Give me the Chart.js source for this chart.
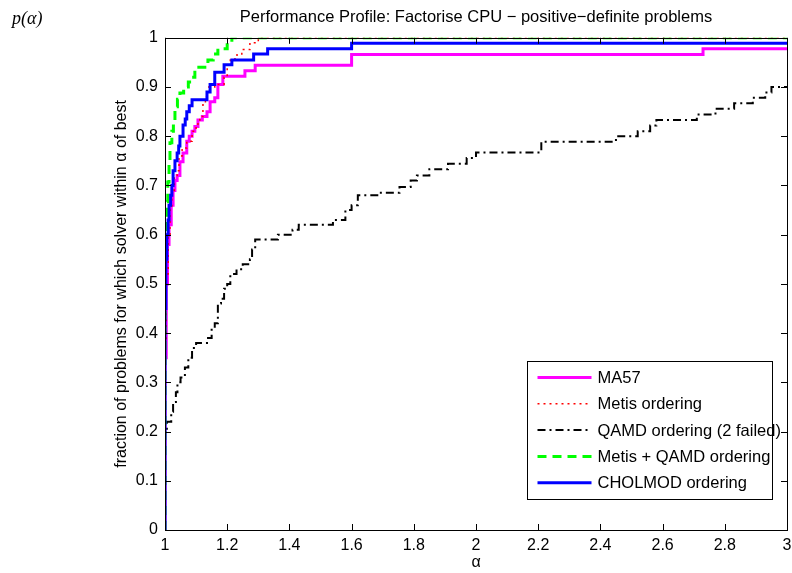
<!DOCTYPE html>
<html>
<head>
<meta charset="utf-8">
<script src="https://cdn.jsdelivr.net/npm/chart.js@4/dist/chart.umd.min.js"></script>
<style>
  html, body { margin: 0; padding: 0; background: #fff; }
  #wrap { width: 792px; height: 573px; }
</style>
</head>
<body>
<div id="wrap"><canvas id="profile"></canvas></div>
<script>
// alpha = ratio to best solver, frac = fraction of problems solved within alpha
const ma57Alpha = [1, 1, 1.004, 1.008, 1.013, 1.02, 1.026, 1.032, 1.039, 1.048, 1.058, 1.07, 1.078, 1.087, 1.096, 1.106, 1.12, 1.135, 1.145, 1.16, 1.17, 1.186, 1.257, 1.29, 1.6, 2.73, 3];
const ma57Frac = [0, 0.35, 0.5, 0.58, 0.62, 0.66, 0.69, 0.71, 0.72, 0.748, 0.766, 0.79, 0.8, 0.81, 0.82, 0.833, 0.84, 0.85, 0.87, 0.878, 0.905, 0.922, 0.933, 0.944, 0.966, 0.978, 0.978];

const metisAlpha = [1, 1, 1.004, 1.01, 1.016, 1.022, 1.03, 1.039, 1.045, 1.055, 1.07, 1.087, 1.1, 1.112, 1.122, 1.13, 1.138, 1.16, 1.19, 1.2, 1.21, 1.225, 1.247, 1.273, 1.3, 3];
const metisFrac = [0, 0.38, 0.52, 0.6, 0.65, 0.69, 0.72, 0.73, 0.76, 0.776, 0.79, 0.81, 0.825, 0.84, 0.864, 0.88, 0.9, 0.905, 0.92, 0.945, 0.955, 0.965, 0.976, 0.99, 1.0, 1.0];

const qamdAlpha = [1, 1, 1.006, 1.02, 1.026, 1.035, 1.04, 1.05, 1.064, 1.075, 1.087, 1.1, 1.135, 1.15, 1.16, 1.17, 1.18, 1.19, 1.2, 1.21, 1.23, 1.25, 1.273, 1.28, 1.29, 1.363, 1.41, 1.43, 1.54, 1.58, 1.6, 1.62, 1.69, 1.754, 1.79, 1.81, 1.85, 1.91, 1.97, 2.0, 2.21, 2.45, 2.52, 2.56, 2.58, 2.71, 2.77, 2.83, 2.89, 2.93, 2.95, 3];
const qamdFrac = [0, 0.2, 0.22, 0.24, 0.26, 0.28, 0.3, 0.31, 0.33, 0.35, 0.37, 0.38, 0.39, 0.41, 0.42, 0.46, 0.47, 0.49, 0.5, 0.52, 0.53, 0.54, 0.55, 0.57, 0.59, 0.6, 0.61, 0.62, 0.63, 0.65, 0.66, 0.68, 0.685, 0.697, 0.71, 0.72, 0.733, 0.744, 0.756, 0.767, 0.789, 0.8, 0.81, 0.822, 0.833, 0.844, 0.856, 0.867, 0.878, 0.889, 0.9, 0.9];

const metisQamdAlpha = [1, 1, 1.003, 1.006, 1.009, 1.013, 1.016, 1.022, 1.027, 1.032, 1.04, 1.048, 1.06, 1.075, 1.087, 1.096, 1.138, 1.155, 1.17, 1.2, 1.215, 3];
const metisQamdFrac = [0, 0.6, 0.63, 0.667, 0.707, 0.748, 0.787, 0.81, 0.827, 0.86, 0.875, 0.888, 0.9, 0.91, 0.92, 0.94, 0.955, 0.967, 0.978, 0.99, 1.0, 1.0];

const cholmodAlpha = [1, 1, 1.003, 1.006, 1.01, 1.013, 1.018, 1.022, 1.026, 1.032, 1.039, 1.044, 1.048, 1.058, 1.065, 1.07, 1.078, 1.087, 1.135, 1.145, 1.16, 1.19, 1.215, 1.285, 1.33, 1.6, 3];
const cholmodFrac = [0, 0.45, 0.55, 0.6, 0.63, 0.66, 0.68, 0.7, 0.73, 0.75, 0.766, 0.78, 0.8, 0.823, 0.835, 0.85, 0.862, 0.874, 0.89, 0.905, 0.93, 0.945, 0.955, 0.967, 0.978, 0.989, 0.989];

const solverNames = ["MA57", "Metis ordering", "QAMD ordering (2 failed)", "Metis + QAMD ordering", "CHOLMOD ordering"];
const xTicks = [1, 1.2, 1.4, 1.6, 1.8, 2, 2.2, 2.4, 2.6, 2.8, 3];
const yTicks = [0, 0.1, 0.2, 0.3, 0.4, 0.5, 0.6, 0.7, 0.8, 0.9, 1];

const FONT = "'Liberation Sans', Arial, sans-serif";

function toPoints(alpha, frac) {
  return alpha.map((a, i) => ({ x: a, y: frac[i] }));
}

function series(label, alpha, frac, color, width, dash, order) {
  return {
    label,
    data: toPoints(alpha, frac),
    borderColor: color,
    backgroundColor: color,
    borderWidth: width,
    borderDash: dash,
    pointRadius: 0,
    stepped: "before",
    fill: false,
    order,
  };
}

// inward ticks, frame box, legend and the p(alpha) label (MATLAB look)
const matlabFrame = {
  id: "matlabFrame",
  afterDraw(chart) {
    const { ctx, chartArea: a, scales } = chart;
    const x = scales.x;
    const y = scales.y;
    ctx.save();
    ctx.strokeStyle = "#000";
    ctx.lineWidth = 1;
    ctx.beginPath();
    xTicks.forEach((v) => {
      const px = Math.round(x.getPixelForValue(v)) + 0.5;
      ctx.moveTo(px, a.bottom);
      ctx.lineTo(px, a.bottom - 6);
      ctx.moveTo(px, a.top);
      ctx.lineTo(px, a.top + 6);
    });
    yTicks.forEach((v) => {
      const py = Math.round(y.getPixelForValue(v)) + 0.5;
      ctx.moveTo(a.left, py);
      ctx.lineTo(a.left + 6, py);
      ctx.moveTo(a.right, py);
      ctx.lineTo(a.right - 6, py);
    });
    ctx.stroke();
    ctx.strokeRect(Math.round(a.left) + 0.5, Math.round(a.top) + 0.5, Math.round(a.width), Math.round(a.height));

    // legend box
    const boxW = 245;
    const boxH = 138;
    const bx = Math.round(a.right) - 15 - boxW + 0.5;
    const by = Math.round(a.bottom) - 31 - boxH + 0.5;
    ctx.fillStyle = "#fff";
    ctx.fillRect(bx, by, boxW, boxH);
    ctx.strokeRect(bx, by, boxW, boxH);
    ctx.font = "16.5px " + FONT;
    ctx.textBaseline = "middle";
    chart.data.datasets.forEach((ds, i) => {
      const ly = by + 16 + i * 26.3;
      ctx.beginPath();
      ctx.strokeStyle = ds.borderColor;
      ctx.lineWidth = ds.borderWidth;
      ctx.setLineDash(ds.borderDash || []);
      ctx.moveTo(bx + 10, ly);
      ctx.lineTo(bx + 64, ly);
      ctx.stroke();
      ctx.setLineDash([]);
      ctx.fillStyle = "#000";
      ctx.fillText(ds.label, bx + 70, ly + 1);
    });

    ctx.fillStyle = "#000";
    ctx.font = "italic 18px 'Liberation Serif', 'DejaVu Serif', serif";
    ctx.textBaseline = "middle";
    ctx.fillText("p(α)", 12, 19);
    ctx.restore();
  },
};

const ctx = document.getElementById("profile").getContext("2d");
new Chart(ctx, {
  type: "line",
  data: {
    datasets: [
      series(solverNames[0], ma57Alpha, ma57Frac, "#ff00ff", 3, [], 4),
      series(solverNames[1], metisAlpha, metisFrac, "#ff0000", 1.5, [2, 4], 3),
      series(solverNames[2], qamdAlpha, qamdFrac, "#000000", 2, [8, 4, 2, 4], 2),
      series(solverNames[3], metisQamdAlpha, metisQamdFrac, "#00ff00", 3, [9, 6], 1),
      series(solverNames[4], cholmodAlpha, cholmodFrac, "#0000ff", 3, [], 0),
    ],
  },
  options: {
    responsive: true,
    maintainAspectRatio: false,
    animation: false,
    layout: { padding: { left: 108, right: 5, top: 0, bottom: 0 } },
    plugins: {
      legend: { display: false },
      tooltip: { enabled: false },
      title: {
        display: true,
        fullSize: false,
        text: "Performance Profile: Factorise CPU − positive−definite problems",
        color: "#000",
        font: { family: FONT, size: 16.5, weight: "normal" },
        padding: { top: 8, bottom: 10 },
      },
    },
    scales: {
      x: {
        type: "linear",
        min: 1,
        max: 3,
        afterFit: (s) => { s.height = 43; s.paddingLeft = 0; s.paddingRight = 0; },
        afterBuildTicks: (s) => { s.ticks = xTicks.map((v) => ({ value: v })); },
        grid: { display: false, drawTicks: false },
        border: { display: false },
        ticks: { color: "#000", font: { family: FONT, size: 16 }, padding: 6, maxRotation: 0, callback: (v) => String(Number(v)) },
        title: { display: true, text: "α", color: "#000", font: { family: FONT, size: 16 }, padding: { top: 0, bottom: 1 } },
      },
      y: {
        type: "linear",
        min: 0,
        max: 1,
        afterFit: (s) => { s.width = 57; },
        afterBuildTicks: (s) => { s.ticks = yTicks.map((v) => ({ value: v })); },
        grid: { display: false, drawTicks: false },
        border: { display: false },
        ticks: { color: "#000", font: { family: FONT, size: 16 }, padding: 7, callback: (v) => String(Number(v)) },
        title: { display: true, text: "fraction of problems for which solver within α of best", color: "#000", font: { family: FONT, size: 16 }, padding: 4 },
      },
    },
  },
  plugins: [matlabFrame],
});
</script>
</body>
</html>
